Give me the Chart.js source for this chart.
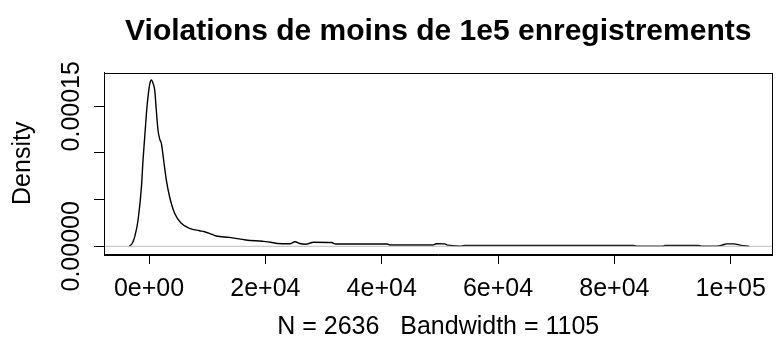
<!DOCTYPE html>
<html>
<head>
<meta charset="utf-8">
<script src="https://cdn.jsdelivr.net/npm/chart.js@4"></script>
<style>
  html, body { margin: 0; padding: 0; background: #ffffff; }
  canvas { display: block; }
</style>
</head>
<body>
<canvas id="chart" width="776" height="347"></canvas>
<script>
// Kernel density estimate of breach sizes (records), N = 2636, bw = 1105
const densityX = [
  -3420, -2900, -2450, -1880, -1300, -1030, -735, -450, -170, 150, 410, 700, 975,
  1250, 1540, 1830, 2120, 2500, 2980, 3540, 4400, 5540, 6960, 8670, 9530, 10380,
  11530, 13800, 16660, 19500, 20930, 22060, 24300, 25100, 25900, 26900, 28300,
  31400, 32100, 40900, 41400, 48800, 49400, 50800, 51400, 52800, 53400, 54200,
  83300, 84000, 88300, 88700, 94400, 95000, 97600, 98600, 99300, 100500, 101800, 103200
];
const densityY = [
  0, 0.0000030, 0.0000103, 0.0000282, 0.0000639, 0.0000925, 0.0001174, 0.0001420,
  0.0001603, 0.0001745, 0.0001782, 0.0001745, 0.0001675, 0.0001460, 0.0001246,
  0.0001150, 0.0001104, 0.0000930, 0.0000710, 0.0000531, 0.0000354, 0.0000246,
  0.0000193, 0.0000167, 0.0000156, 0.0000139, 0.0000110, 0.0000096, 0.0000068,
  0.0000054, 0.0000044, 0.0000030, 0.0000028, 0.0000049, 0.0000030, 0.0000022,
  0.0000043, 0.0000040, 0.0000025, 0.0000025, 0.0000014, 0.0000014, 0.0000028,
  0.0000026, 0.0000012, 0.0000005, 0.0000002, 0.0000008, 0.0000008, 0.0000002,
  0.0000002, 0.0000009, 0.0000009, 0.0000002, 0.0000002, 0.0000014, 0.0000026,
  0.0000026, 0.0000010, 0
];

const xTickValues = [0, 20000, 40000, 60000, 80000, 100000];
const xTickLabels = ['0e+00', '2e+04', '4e+04', '6e+04', '8e+04', '1e+05'];
const yTickValues = [0, 0.00005, 0.0001, 0.00015];
const yTickLabels = ['0.00000', '', '', '0.00015'];
const xLimits = [-7740, 107190];
const yLimits = [-0.00000825, 0.0001862];

const titleText = 'Violations de moins de 1e5 enregistrements';
const xAxisTitle = 'N = 2636   Bandwidth = 1105';
const yAxisTitle = 'Density';

const FONT = "'Liberation Sans', Arial, Helvetica, sans-serif";

// Plot frame around the whole chart area
const framePlugin = {
  id: 'frame',
  afterDraw(chart) {
    const { ctx, chartArea: a } = chart;
    ctx.save();
    ctx.strokeStyle = '#000000';
    ctx.lineWidth = 1;
    ctx.strokeRect(Math.round(a.left) + 0.5, Math.round(a.top) + 0.5,
                   Math.round(a.right - a.left), Math.round(a.bottom - a.top));
    ctx.restore();
  }
};

new Chart(document.getElementById('chart'), {
  type: 'line',
  data: {
    datasets: [
      {
        label: 'zero',
        data: xLimits.map(x => ({ x, y: 0 })),
        borderColor: '#bebebe',
        borderWidth: 1,
        pointRadius: 0,
        order: 0
      },
      {
        label: 'density',
        data: densityX.map((x, i) => ({ x, y: densityY[i] })),
        borderColor: '#000000',
        borderWidth: 1.4,
        pointRadius: 0,
        cubicInterpolationMode: 'monotone',
        order: 1
      }
    ]
  },
  options: {
    responsive: false,
    animation: false,
    devicePixelRatio: 1,
    layout: { padding: 0, autoPadding: false },
    plugins: {
      legend: { display: false },
      tooltip: { enabled: false },
      title: {
        display: true,
        text: titleText,
        fullSize: false,
        color: '#000000',
        font: { family: FONT, size: 30, weight: 'bold' },
        padding: { top: 14, bottom: 22.5 }
      }
    },
    scales: {
      x: {
        type: 'linear',
        min: xLimits[0],
        max: xLimits[1],
        afterBuildTicks: s => { s.ticks = xTickValues.map(v => ({ value: v })); },
        afterFit: s => { s.height = 93; },
        ticks: {
          callback: v => xTickLabels[xTickValues.indexOf(v)],
          color: '#000000',
          font: { family: FONT, size: 25 },
          padding: 10,
          maxRotation: 0,
          autoSkip: false
        },
        grid: { drawOnChartArea: false, tickLength: 10, color: '#000000' },
        border: { color: '#000000', width: 1 },
        title: {
          display: true,
          text: xAxisTitle,
          color: '#000000',
          font: { family: FONT, size: 25 },
          padding: { top: 0, bottom: 5 }
        }
      },
      y: {
        type: 'linear',
        min: yLimits[0],
        max: yLimits[1],
        afterBuildTicks: s => { s.ticks = yTickValues.map(v => ({ value: v })); },
        afterFit: s => { s.width = 104; },
        ticks: {
          callback: v => yTickLabels[yTickValues.indexOf(v)],
          color: '#000000',
          font: { family: FONT, size: 25 },
          padding: -23,
          minRotation: 90,
          maxRotation: 90,
          crossAlign: 'center',
          autoSkip: false
        },
        grid: { drawOnChartArea: false, tickLength: 10, color: '#000000' },
        border: { color: '#000000', width: 1 },
        title: {
          display: true,
          text: yAxisTitle,
          color: '#000000',
          font: { family: FONT, size: 25 },
          padding: { top: 8, bottom: 0 }
        }
      }
    }
  },
  plugins: [framePlugin]
});
</script>
</body>
</html>
